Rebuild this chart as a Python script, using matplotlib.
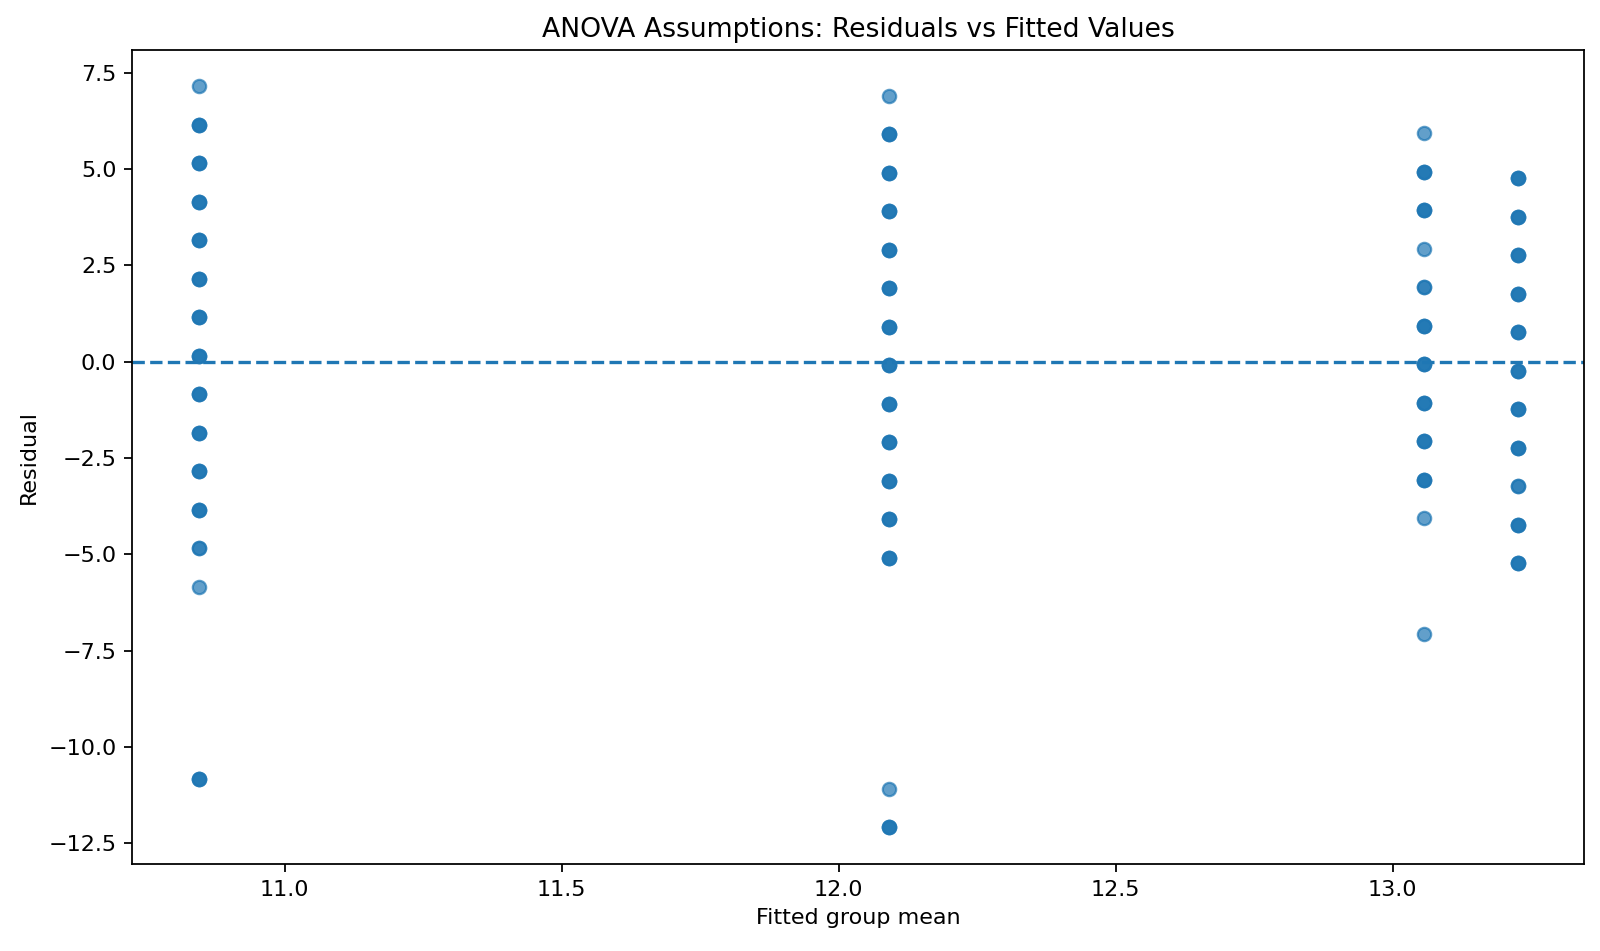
import matplotlib
matplotlib.use("Agg")
import matplotlib.pyplot as plt
import numpy as np

# Fitted group means (x positions)
group_means = [10.845, 12.09, 13.057, 13.227]

# Residuals (duplicates represent overlapping points)
resid_g1 = [7.15,
            6.15, 6.15, 6.15, 5.15, 5.15, 5.15, 4.15, 4.15, 4.15,
            3.15, 3.15, 3.15, 2.15, 2.15, 2.15, 1.15, 1.15, 1.15,
            0.15, 0.15, 0.15, -0.85, -0.85, -0.85, -1.85, -1.85, -1.85,
            -2.85, -2.85, -2.85, -3.85, -3.85, -3.85, -4.85, -4.85,
            -5.85, -10.85, -10.85, -10.85]
resid_g2 = [6.91,
            5.91, 5.91, 5.91, 4.91, 4.91, 4.91, 3.91, 3.91, 3.91,
            2.91, 2.91, 2.91, 1.91, 1.91, 1.91, 0.91, 0.91, 0.91,
            -0.09, -0.09, -0.09, -1.09, -1.09, -1.09, -2.09, -2.09, -2.09,
            -3.09, -3.09, -3.09, -4.09, -4.09, -4.09, -5.09, -5.09, -5.09,
            -11.09, -12.09, -12.09, -12.09]
resid_g3 = [5.94,
            4.94, 4.94, 4.94, 3.94, 3.94, 3.94, 2.94,
            1.94, 1.94, 0.94, 0.94, 0.94, -0.06, -0.06, -0.06,
            -1.06, -1.06, -1.06, -2.06, -2.06, -2.06, -3.06, -3.06, -3.06,
            -4.06, -7.06]
resid_g4 = [4.77, 4.77, 4.77, 3.77, 3.77, 3.77, 2.77, 2.77, 2.77,
            1.77, 1.77, 1.77, 0.77, 0.77, 0.77, -0.23, -0.23, -0.23,
            -1.23, -1.23, -1.23, -2.23, -2.23, -2.23, -3.23, -3.23,
            -4.23, -4.23, -4.23, -5.23, -5.23, -5.23]

residuals = [resid_g1, resid_g2, resid_g3, resid_g4]

fitted = []
resid = []
for m, r in zip(group_means, residuals):
    fitted.extend([m] * len(r))
    resid.extend(r)

fig = plt.figure(figsize=(10, 951 / 160), dpi=160)
ax = fig.add_axes([132 / 1600, 87 / 951, (1584 - 132) / 1600, (864 - 50) / 951])

ax.scatter(fitted, resid, alpha=0.7)
ax.axhline(0, linestyle='--')

ax.set_xlim(10.7244, 13.3453)
ax.set_ylim(-13.045, 8.097)
ax.set_xticks([11.0, 11.5, 12.0, 12.5, 13.0])
ax.set_yticks([-12.5, -10.0, -7.5, -5.0, -2.5, 0.0, 2.5, 5.0, 7.5])

ax.set_title("ANOVA Assumptions: Residuals vs Fitted Values")
ax.set_xlabel("Fitted group mean")
ax.set_ylabel("Residual")

fig.savefig("out.png", dpi=160)
